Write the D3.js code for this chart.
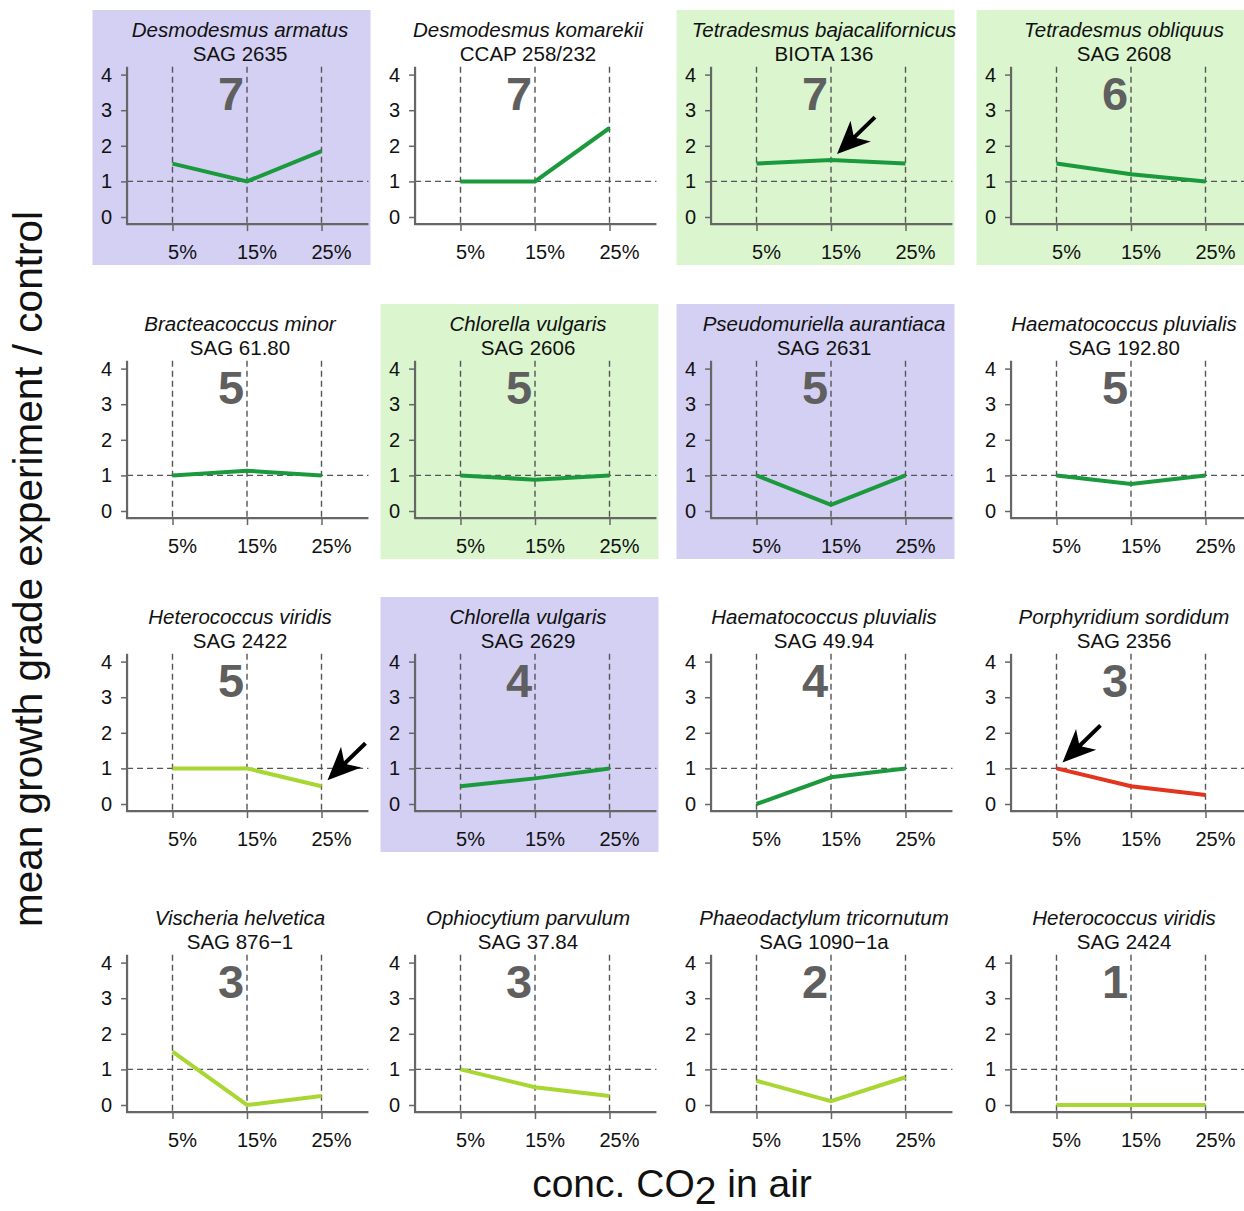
<!DOCTYPE html>
<html>
<head>
<meta charset="utf-8">
<script src="https://cdn.jsdelivr.net/npm/d3@7"></script>
<style>
body { margin: 0; background: #fff; }
svg { display: block; }
text { font-family: "Liberation Sans", Arial, Helvetica, sans-serif; }
</style>
</head>
<body>
<svg id="chart" width="1244" height="1211"></svg>
<script>
// panel data, read row by row (4 x 4)
const species = ['Desmodesmus armatus', 'Desmodesmus komarekii', 'Tetradesmus bajacalifornicus', 'Tetradesmus obliquus',
    'Bracteacoccus minor', 'Chlorella vulgaris', 'Pseudomuriella aurantiaca', 'Haematococcus pluvialis',
    'Heterococcus viridis', 'Chlorella vulgaris', 'Haematococcus pluvialis', 'Porphyridium sordidum',
    'Vischeria helvetica', 'Ophiocytium parvulum', 'Phaeodactylum tricornutum', 'Heterococcus viridis'];
const strains = ['SAG 2635', 'CCAP 258/232', 'BIOTA 136', 'SAG 2608',
    'SAG 61.80', 'SAG 2606', 'SAG 2631', 'SAG 192.80',
    'SAG 2422', 'SAG 2629', 'SAG 49.94', 'SAG 2356',
    'SAG 876\u22121', 'SAG 37.84', 'SAG 1090\u22121a', 'SAG 2424'];
const grades = [7, 7, 7, 6, 5, 5, 5, 5, 5, 4, 4, 3, 3, 3, 2, 1];
const shading = ['purple', 'none', 'green', 'green', 'none', 'green', 'purple', 'none',
    'none', 'purple', 'none', 'none', 'none', 'none', 'none', 'none'];
const lineGroup = ['dark', 'dark', 'dark', 'dark', 'dark', 'dark', 'dark', 'dark',
    'light', 'dark', 'dark', 'red', 'light', 'light', 'light', 'light'];
const concs = [5, 15, 25];
const concLabels = ['5%', '15%', '25%'];
const yTicks = [0, 1, 2, 3, 4];
const growth = [
    [1.5, 1.0, 1.85], [1.0, 1.0, 2.5], [1.5, 1.6, 1.5], [1.5, 1.2, 1.0],
    [1.0, 1.13, 1.0], [1.0, 0.88, 1.0], [1.0, 0.17, 1.0], [1.0, 0.76, 1.0],
    [1.0, 1.0, 0.5], [0.5, 0.72, 1.0], [0.0, 0.75, 1.0], [1.0, 0.5, 0.25],
    [1.5, 0.0, 0.25], [1.0, 0.5, 0.25], [0.68, 0.11, 0.78], [0.0, 0.0, 0.0]
];
// arrows: panel index and concentration they point at
const arrowPanel = [2, 8, 11];
const arrowConc = [15, 25, 5];

const lineColors = {dark: '#1b9a3d', light: '#a8d733', red: '#e2341f'};
const shadeColors = {purple: '#d3d0f3', green: '#dbf6cf'};

// layout (5% gridline x per column, y=0 per row)
const colX = [172.5, 460.5, 756.5, 1056.5];
const rowY = [217, 511, 804, 1105];

const svg = d3.select('#chart');

species.forEach((sp, i) => {
    const row = Math.floor(i / 4), col = i % 4;
    const x5 = colX[col], y0 = rowY[row];
    const x = d3.scaleLinear().domain([5, 25]).range([x5, x5 + 149]);
    const y = d3.scaleLinear().domain([0, 4]).range([y0, y0 - 142.4]);
    const g = svg.append('g').attr('class', 'panel');

    if (shading[i] !== 'none') {
        g.append('rect')
            .attr('x', x5 - 80).attr('y', y0 - 207)
            .attr('width', 278).attr('height', 255)
            .attr('fill', shadeColors[shading[i]]);
    }

    // dashed guides
    g.selectAll('.vgrid').data(concs).enter().append('line')
        .attr('class', 'vgrid')
        .attr('x1', d => x(d)).attr('x2', d => x(d))
        .attr('y1', y(4.22)).attr('y2', y(-0.2))
        .attr('stroke', '#555').attr('stroke-width', 1.4).attr('stroke-dasharray', '6,4');
    g.append('line')
        .attr('x1', x(-1.1)).attr('x2', x(31.3))
        .attr('y1', y(1)).attr('y2', y(1))
        .attr('stroke', '#555').attr('stroke-width', 1.4).attr('stroke-dasharray', '6,4');

    // axes
    const yAx = g.append('g')
        .attr('transform', `translate(${x(-1.1)},0)`)
        .call(d3.axisLeft(y).tickValues(yTicks).tickSize(6).tickPadding(9).tickFormat(d3.format('d')));
    const xAx = g.append('g')
        .attr('transform', `translate(0,${y(-0.2)})`)
        .call(d3.axisBottom(x).tickValues(concs).tickSize(7).tickFormat((d, k) => concLabels[k]));
    [yAx, xAx].forEach(a => {
        a.select('.domain').remove();
        a.selectAll('.tick line').attr('stroke', '#666').attr('stroke-width', 1.5);
        a.selectAll('text').attr('fill', '#111').style('font-size', '20px').style('font-family', null);
    });
    xAx.selectAll('text').attr('y', 35).attr('dy', 0).attr('dx', 9.5);
    g.append('line')
        .attr('x1', x(-1.1)).attr('x2', x(-1.1)).attr('y1', y(4.22)).attr('y2', y(-0.2) + 1)
        .attr('stroke', '#666').attr('stroke-width', 2.2);
    g.append('line')
        .attr('x1', x(-1.1)).attr('x2', x(31.3)).attr('y1', y(-0.2)).attr('y2', y(-0.2))
        .attr('stroke', '#666').attr('stroke-width', 2.2);

    // titles
    g.append('text')
        .attr('x', x(15) - 7).attr('y', y0 - 180)
        .attr('text-anchor', 'middle').style('font-style', 'italic').style('font-size', '20.5px')
        .attr('fill', '#111').text(sp);
    g.append('text')
        .attr('x', x(15) - 7).attr('y', y0 - 156)
        .attr('text-anchor', 'middle').style('font-size', '20.5px')
        .attr('fill', '#111').text(strains[i]);
    g.append('text')
        .attr('x', x(15) - 16).attr('y', y(3))
        .attr('text-anchor', 'middle').style('font-size', '47px').style('font-weight', 'bold')
        .attr('fill', '#5f5f5f').text(grades[i]);

    // data line
    const line = d3.line().x((d, k) => x(concs[k])).y(d => y(d));
    g.append('path')
        .datum(growth[i])
        .attr('d', line)
        .attr('fill', 'none')
        .attr('stroke', lineColors[lineGroup[i]])
        .attr('stroke-width', 4);

    // arrow
    const ai = arrowPanel.indexOf(i);
    if (ai >= 0) {
        const k = concs.indexOf(arrowConc[ai]);
        const tx = x(arrowConc[ai]) + 6, ty = y(growth[i][k]) - 6;
        const ang = Math.atan2(-37, 38) * 180 / Math.PI;
        g.append('path')
            .attr('transform', `translate(${tx},${ty}) rotate(${ang})`)
            .attr('d', 'M0,0 L33,-14.5 L25,-2 L53,-2 L53,2 L25,2 L33,14.5 Z')
            .attr('fill', '#000');
    }
});

// axis titles
svg.append('text')
    .attr('transform', 'translate(42,569) rotate(-90)')
    .attr('text-anchor', 'middle')
    .style('font-size', '40.5px')
    .attr('fill', '#111')
    .text('mean growth grade experiment / control');

const xl = svg.append('text')
    .attr('x', 672).attr('y', 1197)
    .attr('text-anchor', 'middle')
    .style('font-size', '39px')
    .attr('fill', '#111');
xl.append('tspan').text('conc. CO');
xl.append('tspan').attr('dy', 7).text('2');
xl.append('tspan').attr('dy', -7).text(' in air');
</script>
</body>
</html>
